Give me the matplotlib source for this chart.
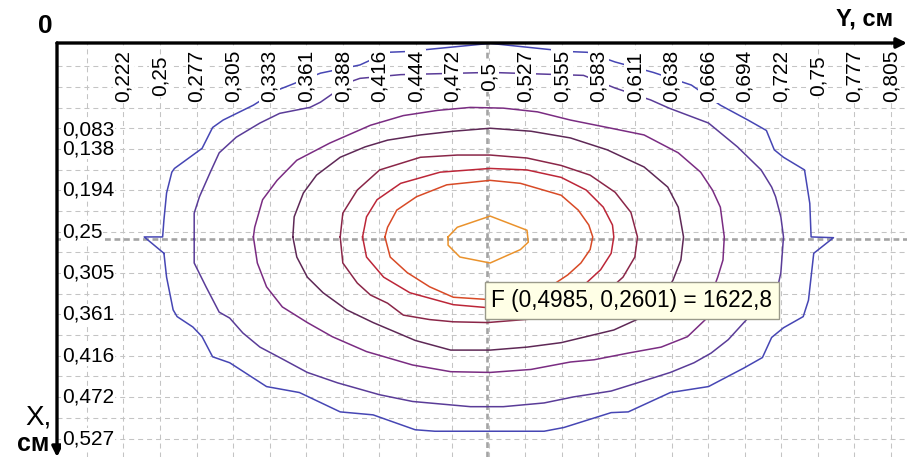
import matplotlib
matplotlib.use('Agg')
import matplotlib.pyplot as plt
import matplotlib.transforms as mtransforms
import numpy as np

plt.rcParams['font.family'] = ['Liberation Sans', 'DejaVu Sans']

# подписи осей (см)
y_tick_vals = [0.2222, 0.25, 0.2778, 0.3056, 0.3333, 0.3611, 0.3889, 0.4167, 0.4444, 0.4722, 0.5,
               0.5278, 0.5556, 0.5833, 0.6111, 0.6389, 0.6667, 0.6944, 0.7222, 0.75, 0.7778, 0.8056]
y_tick_labels = ['0,222', '0,25', '0,277', '0,305', '0,333', '0,361', '0,388', '0,416', '0,444', '0,472', '0,5',
                 '0,527', '0,555', '0,583', '0,611', '0,638', '0,666', '0,694', '0,722', '0,75', '0,777', '0,805']
x_tick_vals = [0.0833, 0.1389, 0.1944, 0.25, 0.3056, 0.3611, 0.4167, 0.4722, 0.5278]
x_tick_labels = ['0,083', '0,138', '0,194', '0,25', '0,305', '0,361', '0,416', '0,472', '0,527']

# точка курсора
f_y = 0.4985
f_x = 0.2601
f_val = '1622,8'

# изолинии: Y (по горизонтали), X (по вертикали), от внешней к внутренней
c1_y = [0.253, 0.238, 0.252, 0.253, 0.255, 0.259, 0.261, 0.282, 0.290, 0.298, 0.321, 0.339, 0.372, 0.402,
        0.423, 0.437, 0.501, 0.561, 0.575, 0.596, 0.625, 0.654, 0.676, 0.697, 0.711, 0.717, 0.724, 0.740,
        0.744, 0.745, 0.762, 0.747, 0.743, 0.739, 0.724, 0.715, 0.708, 0.694, 0.667, 0.638, 0.606, 0.593,
        0.557, 0.542, 0.459, 0.444, 0.412, 0.387, 0.356, 0.331, 0.303, 0.290, 0.282, 0.275, 0.263, 0.260,
        0.255, 0.253]
c1_x = [0.279, 0.257, 0.257, 0.234, 0.198, 0.170, 0.165, 0.138, 0.110, 0.100, 0.080, 0.060, 0.037, 0.026,
        0.009, 0.008, -0.003, 0.008, 0.009, 0.022, 0.036, 0.053, 0.080, 0.100, 0.114, 0.140, 0.150, 0.167,
        0.212, 0.257, 0.258, 0.279, 0.342, 0.364, 0.379, 0.392, 0.419, 0.433, 0.458, 0.466, 0.492, 0.493,
        0.513, 0.518, 0.518, 0.516, 0.496, 0.492, 0.466, 0.458, 0.426, 0.418, 0.391, 0.378, 0.364, 0.355,
        0.311, 0.279]

c2_y = [0.276, 0.276, 0.280, 0.288, 0.295, 0.308, 0.326, 0.341, 0.364, 0.372, 0.394, 0.402, 0.433, 0.501,
        0.572, 0.596, 0.623, 0.637, 0.667, 0.689, 0.707, 0.715, 0.718, 0.722, 0.724, 0.722, 0.720, 0.707,
        0.697, 0.682, 0.669, 0.656, 0.638, 0.613, 0.593, 0.564, 0.542, 0.511, 0.486, 0.442, 0.417, 0.385,
        0.362, 0.341, 0.326, 0.313, 0.303, 0.295, 0.285, 0.276, 0.276]
c2_x = [0.260, 0.225, 0.203, 0.171, 0.144, 0.123, 0.104, 0.091, 0.083, 0.076, 0.049, 0.044, 0.039, 0.036,
        0.040, 0.057, 0.073, 0.084, 0.104, 0.136, 0.167, 0.190, 0.203, 0.230, 0.257, 0.305, 0.321, 0.348,
        0.366, 0.395, 0.413, 0.426, 0.439, 0.453, 0.464, 0.472, 0.480, 0.485, 0.485, 0.478, 0.469, 0.453,
        0.439, 0.419, 0.405, 0.386, 0.366, 0.358, 0.324, 0.292, 0.260]

c3_y = [0.321, 0.322, 0.328, 0.339, 0.354, 0.379, 0.410, 0.435, 0.461, 0.486, 0.511, 0.537, 0.562, 0.593,
        0.618, 0.644, 0.661, 0.670, 0.676, 0.679, 0.678, 0.674, 0.669, 0.667, 0.651, 0.631, 0.606, 0.580,
        0.562, 0.532, 0.501, 0.471, 0.442, 0.407, 0.381, 0.362, 0.343, 0.331, 0.324, 0.321]
c3_x = [0.257, 0.244, 0.207, 0.181, 0.154, 0.131, 0.107, 0.094, 0.087, 0.083, 0.084, 0.089, 0.100, 0.111,
        0.120, 0.144, 0.170, 0.194, 0.217, 0.257, 0.288, 0.311, 0.335, 0.364, 0.391, 0.405, 0.413, 0.422,
        0.425, 0.435, 0.439, 0.438, 0.429, 0.411, 0.391, 0.372, 0.351, 0.324, 0.292, 0.257]

c4_y = [0.351, 0.352, 0.359, 0.369, 0.387, 0.406, 0.423, 0.448, 0.473, 0.501, 0.532, 0.562, 0.590, 0.618,
        0.636, 0.644, 0.648, 0.646, 0.640, 0.631, 0.615, 0.595, 0.555, 0.529, 0.501, 0.471, 0.444, 0.412,
        0.392, 0.374, 0.362, 0.354, 0.351]
c4_x = [0.257, 0.230, 0.198, 0.174, 0.150, 0.136, 0.127, 0.120, 0.115, 0.111, 0.115, 0.124, 0.140, 0.163,
        0.190, 0.217, 0.257, 0.288, 0.315, 0.342, 0.366, 0.382, 0.399, 0.405, 0.409, 0.409, 0.396, 0.372,
        0.355, 0.332, 0.311, 0.284, 0.257]

c5_y = [0.387, 0.389, 0.400, 0.417, 0.448, 0.476, 0.501, 0.529, 0.555, 0.577, 0.596, 0.608, 0.613, 0.611,
        0.602, 0.585, 0.562, 0.534, 0.499, 0.473, 0.455, 0.435, 0.423, 0.410, 0.400, 0.389, 0.387]
c5_x = [0.257, 0.225, 0.194, 0.167, 0.150, 0.147, 0.147, 0.151, 0.161, 0.174, 0.197, 0.224, 0.257, 0.284,
        0.311, 0.338, 0.358, 0.367, 0.372, 0.371, 0.368, 0.362, 0.346, 0.335, 0.319, 0.292, 0.257]

c6_y = [0.404, 0.407, 0.415, 0.433, 0.463, 0.501, 0.529, 0.555, 0.574, 0.587, 0.594, 0.595, 0.593, 0.585,
        0.574, 0.555, 0.532, 0.499, 0.473, 0.440, 0.420, 0.407, 0.404]
c6_x = [0.257, 0.230, 0.207, 0.185, 0.170, 0.165, 0.167, 0.177, 0.194, 0.217, 0.241, 0.257, 0.279, 0.301,
        0.319, 0.338, 0.348, 0.352, 0.348, 0.332, 0.311, 0.284, 0.257]

c7_y = [0.421, 0.423, 0.430, 0.445, 0.468, 0.501, 0.524, 0.555, 0.568, 0.576, 0.579, 0.577, 0.570, 0.560,
        0.543, 0.524, 0.499, 0.473, 0.455, 0.438, 0.425, 0.421]
c7_x = [0.257, 0.244, 0.221, 0.203, 0.187, 0.181, 0.185, 0.201, 0.221, 0.241, 0.257, 0.274, 0.292, 0.308,
        0.328, 0.339, 0.341, 0.338, 0.324, 0.305, 0.284, 0.257]

c8_y = [0.469, 0.476, 0.501, 0.529, 0.530, 0.524, 0.501, 0.478, 0.469, 0.469]
c8_x = [0.257, 0.244, 0.229, 0.248, 0.264, 0.274, 0.292, 0.284, 0.268, 0.257]

contours = [
    (c1_y, c1_x, '#4646b4'),
    (c2_y, c2_x, '#5a3c98'),
    (c3_y, c3_x, '#7a2c82'),
    (c4_y, c4_x, '#5e2856'),
    (c5_y, c5_x, '#8a2648'),
    (c6_y, c6_x, '#bc2638'),
    (c7_y, c7_x, '#d84a26'),
    (c8_y, c8_x, '#ea922c'),
]

fig = plt.figure(figsize=(9.07, 4.57), dpi=100)
ax = fig.add_axes([57 / 907, 0, 850 / 907, 414 / 457])
ax.set_xlim(0.1717, 0.8179)
ax.set_ylim(0.5526, -0.0035)
ax.axis('off')

# сетка через 1/36
for g in np.arange(7, 30) / 36:
    ax.axvline(g, color='#c4c4c4', lw=0.75, ls=(0, (4.8, 3.8)), zorder=1)
for g in np.arange(1, 20) / 36:
    ax.axhline(g, color='#c4c4c4', lw=0.75, ls=(0, (4.8, 3.8)), zorder=1)

# перекрестие курсора
ax.axvline(f_y, color='#a4a4a4', lw=1.9, ls=(0, (2.2, 1.4)), zorder=2)
ax.axhline(f_x, color='#a4a4a4', lw=1.9, ls=(0, (2.2, 1.4)), zorder=2)

for cy, cx, col in contours:
    ax.plot(cy, cx, color=col, lw=1.1, zorder=3)

# подписи делений
for v, lab in zip(y_tick_vals, y_tick_labels):
    ax.text(v, 0.041, lab, rotation=90, ha='center', va='center', fontsize=15,
            bbox=dict(facecolor='white', edgecolor='none', pad=0.8), zorder=5)

trans = mtransforms.blended_transform_factory(ax.transAxes, ax.transData)
for v, lab in zip(x_tick_vals, x_tick_labels):
    pos = v if v > 0.1 else 0.113
    ax.text(0.006, pos, lab, transform=trans, ha='left', va='center', fontsize=15,
            bbox=dict(facecolor='white', edgecolor='none', pad=0.6), zorder=5)

# всплывающая подсказка
ax.text(f_y + 0.0035, 0.3425, 'F (0,4985, 0,2601) = ' + f_val, ha='left', va='center', fontsize=16.3,
        bbox=dict(boxstyle='square,pad=0.3', facecolor='#ffffe6', edgecolor='#9a9a8a', lw=1.0), zorder=6)

# оси со стрелками
ax.annotate('', xy=(1.0, 1.0), xytext=(0, 1.0), xycoords='axes fraction',
            arrowprops=dict(arrowstyle='-|>,head_length=0.6,head_width=0.3', lw=2.4, color='black',
                            shrinkA=0, shrinkB=0), annotation_clip=False)
ax.annotate('', xy=(0, 0.0), xytext=(0, 1.0), xycoords='axes fraction',
            arrowprops=dict(arrowstyle='-|>,head_length=0.6,head_width=0.3', lw=2.4, color='black',
                            shrinkA=0, shrinkB=0), annotation_clip=False)

fig.text(45 / 907, 1 - 26 / 457, '0', ha='center', va='center', fontsize=19, fontweight='bold')
fig.text(865 / 907, 1 - 19 / 457, 'Y, см', ha='center', va='center', fontsize=17, fontweight='bold')
fig.text(38 / 907, 1 - 417 / 457, 'X,', ha='center', va='center', fontsize=20)
fig.text(33 / 907, 1 - 444 / 457, 'см', ha='center', va='center', fontsize=18, fontweight='bold')

fig.savefig('out.png', dpi=100)
